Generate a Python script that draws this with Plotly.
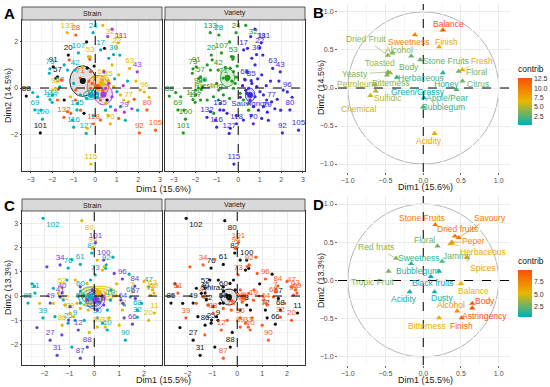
import numpy as np
import plotly.graph_objects as go

# ================= DATA =================
# ---- Panel A : individuals (Strain / Variety), Dim1 15.6 %, Dim2 14.5 %
A_label = ["133","28","24","32","111","18","22","20","107","53","17","91","30","63","43","96",
           "73","42","57","59","71","88","98","122","117","69","100","101","132","135","116",
           "127","118","70","115","77","29","80","105","92","65","85"]
A_lx = [-1.3,-0.9,-0.1,0.35,0.78,1.07,1.0,-1.25,-0.78,-0.23,0.25,-1.95,0.85,1.6,1.95,2.28,
        -2.1,-0.93,-1.75,-1.65,-0.7,-3.2,-1.85,-2.1,-2.0,-2.8,-2.45,-2.55,-1.45,-0.85,-1.0,
        -0.42,-0.08,0.7,-0.2,1.55,1.35,2.4,2.8,2.05,0.3,0.6]
A_ly = [2.4,2.3,2.4,2.72,2.55,1.96,1.75,1.43,1.52,1.35,1.65,0.92,1.45,0.85,0.7,-0.17,
        0.83,0.78,0.48,0.05,0.43,-0.35,0.0,-0.5,-0.62,-0.95,-1.35,-1.95,-1.27,-0.95,-1.7,
        -1.97,-1.55,-1.55,-3.3,-0.6,-1.05,-0.95,-1.83,-1.95,0.38,0.32]
A_lstrain = ["G","O","C","G","P","G","G","K","C","G","C","K","C","G","P","G",
             "C","C","K","C","O","K","G","C","C","C","C","K","O","C","C",
             "C","O","G","G","G","P","O","O","O","G","G"]
A_lvariety = ["R","R","R","R","S","S","S","R","R","R","S","R","S","S","S","S",
              "R","R","R","R","R","R","R","R","R","R","R","R","S","S","S",
              "S","S","S","S","S","S","S","S","S","S","S"]
# unlabeled individuals
A_ux = [-0.4,-0.32,-0.25,-1.29,-1.57,-1.72,-1.98,-2.67,-2.9,-2.52,-1.75,-1.44,-1.15,-0.92,-0.69,
        -0.52,-0.22,-0.37,-0.09,-0.14,0.09,0.24,0.48,0.48,-2.13,-1.83,-1.21,-1.44,-0.91,-0.83,
        -1.14,-1.98,-0.4,-0.22,-0.6,-0.05,-1.0,-0.3,
        0.58,0.43,0.63,0.78,1.14,1.09,0.4,0.32,0.63,0.86,1.01,1.17,0.78,0.55,0.4,0.48,0.71,
        0.94,1.17,1.32,0.24,-0.09,-0.37,-0.68,-1.29,-1.06,-0.52,1.09,1.89,2.09,1.81,1.97,1.5,
        1.3,0.2,0.35,0.1,0.9,1.4,0.6,2.5,1.7]
A_uy = [2.0,1.36,1.25,0.78,0.35,-0.06,-0.3,-0.38,-0.2,-0.96,-0.52,-0.52,-0.38,-0.52,-0.3,
        0.35,0.71,0.86,0.47,0.2,-0.23,-0.52,-0.96,-0.67,0.64,0.42,1.22,1.0,-0.09,-0.67,
        -1.1,-0.09,-0.45,-0.01,0.9,0.95,0.2,0.3,
        2.23,1.72,1.29,1.0,1.43,0.57,0.71,0.35,0.2,0.06,-0.16,-0.3,-0.38,-0.52,-0.23,-0.01,-0.81,
        -0.96,-0.81,-0.52,-1.39,-1.2,-1.75,-0.96,-1.03,-1.39,-1.1,-1.32,0.3,-0.09,-0.49,-0.96,0.3,
        0.1,0.1,-0.1,-0.4,0.4,-1.4,-1.2,-0.4,-0.9]
A_ustrain = ["K","G","O","C","O","O","C","C","C","C","O","K","G","O","C",
             "K","O","K","G","O","C","O","C","G","C","K","O","C","O","C",
             "O","G","C","O","G","K","C","O",
             "P","K","C","G","C","G","P","O","P","G","C","G","P","K","O","P","C",
             "P","C","G","O","C","G","O","O","C","K","O","G","G","O","C","C",
             "P","P","O","C","C","C","G","G","P"]
A_uvariety = ["R"] * 38 + ["S"] * 42

# group ellipses (centre x, centre y, radius x, radius y)
A_strain_groups = ["K","O","P","C","G"]
A_strain_ell = [(-0.58,0.3,0.6,0.66),(0.12,0.05,0.5,0.5),(0.38,-0.28,0.42,0.45),
                (-0.2,-0.3,0.35,0.2),(0.3,0.2,0.4,0.35)]
A_variety_groups = ["R","S"]
A_variety_names = ["Riesling","Sauvignon"]
A_variety_ell = [(-0.5,0.45,0.33,0.4),(0.55,-0.3,0.22,0.3)]

# ---- Panel C : individuals, Dim1 15.5 %, Dim2 13.3 %
C_label = ["102","80","101","94","100","82","34","73","92","61","76","96","84","47","63","7","99",
           "65","67","69","19","64","68","32","11","20","66","90","72","10","33","89","30","8",
           "26","12","9","25","86","38","42","49","39","27","31","87","88","51","85","52","41",
           "40","50","60"]
C_lx = [-2.05,-0.5,0.05,-0.05,0.38,-0.1,-1.37,0.04,0.48,-0.56,-1.05,1.13,1.63,2.18,2.34,1.53,2.26,
        1.45,1.65,2.4,0.65,1.15,1.73,1.73,2.42,2.18,1.53,1.25,1.13,0.52,0.44,0.12,0.12,0.38,
        -0.24,-0.64,-0.77,-1.05,-1.29,-0.97,-1.17,-1.77,-2.06,-1.77,-1.49,-0.56,-0.28,-2.38,-2.66,
        -1.29,-1.37,-1.29,-0.56,-0.55]
C_ly = [3.2,3.1,2.2,2.0,1.48,1.77,1.28,0.87,1.28,1.3,1.15,0.7,0.41,0.37,0.25,0.17,0.04,
        -0.04,-0.1,0.12,-0.17,-0.3,-0.58,-0.87,-0.7,-1.0,-1.16,-1.82,-0.58,-1.4,-1.28,-1.28,-0.9,-0.37,
        -0.58,-1.4,-1.0,-1.12,-1.2,-0.7,-0.37,-0.29,-0.9,-1.82,-2.44,-2.56,-2.1,0.12,-0.29,
        0.33,-0.04,0.12,-0.29,0.2]
C_lstrain = ["C","G","P","G","P","C","P","C","C","C","C","P","P","C","G","G","G",
             "C","P","G","C","P","C","C","G","G","P","C","G","C","G","G","C","P",
             "G","P","C","C","G","G","G","P","C","P","P","P","P","C","C","G","P",
             "P","C","C"]
C_lvariety = ["K","K","O","O","K","K","O","O","O","K","K","O","O","O","O","O","O",
              "O","K","O","O","O","K","O","K","O","K","O","K","O","O","O","O","K",
              "O","O","K","K","K","O","K","K","O","K","K","O","K","O","K","K","O",
              "K","K","K"]
C_ux = [0.33,0.46,0.12,-1.1,-0.76,-0.56,-0.29,-0.15,-0.08,-0.42,-0.29,-0.69,-0.97,-1.24,-1.44,
        -1.64,-2.19,-1.58,-1.03,-0.83,0.53,0.12,-2.3,1.4,0.9,-0.2,1.2,-0.9,-2.5,
        -0.08,0.4,-1.64,-1.17,-0.56,0.33,0.12,0.33,0.46,0.67,0.87,1.07,1.21,0.8,0.2,0.0,-0.2,
        0.6,1.9,2.0,-2.4,-1.9,-0.9,0.75,1.0,-0.4,-1.3]
C_uy = [1.07,1.14,1.48,0.66,0.66,0.38,0.52,0.66,0.25,0.04,-0.16,-0.3,-0.44,-0.16,0.11,
        0.32,-0.3,-0.85,-0.99,-0.85,-0.58,-0.58,-1.3,0.9,0.5,-1.5,-0.9,-2.1,0.5,
        1.96,1.21,-0.3,-0.37,-0.51,-1.12,0.25,0.0,0.11,0.25,0.0,-0.16,-0.37,0.93,-0.25,0.1,-0.2,
        -0.9,-0.3,0.6,0.4,1.2,1.5,1.6,-1.2,-1.0,-1.6]
C_ustrain = ["G","C","G","C","G","P","G","C","P","C","P","G","P","C","G",
             "C","G","C","P","G","C","P","P","C","G","G","P","C","C",
             "G","G","G","C","G","C","G","P","G","C","G","P","C","P","P","P","C",
             "G","C","G","C","P","C","C","G","C","P"]
C_uvariety = ["K"] * 29 + ["O"] * 27

C_strain_groups = ["C","G","P"]
C_strain_ell = [(-0.16,-0.03,0.47,0.41),(0.17,0.11,0.74,0.3),(0.04,-0.16,0.38,0.38)]
C_variety_groups = ["K","O"]
C_variety_names = ["Shiraz",""]
C_variety_ell = [(-0.33,-0.04,0.33,0.33),(0.24,-0.04,0.18,0.17)]

# ---- Panel B : variables (correlation circle)
B_var = ["Balance","Sweetness","Finish","Dried Fruit","Alcohol","Toasted","Body","Stone Fruits",
         "Fresh","Floral","Yeasty","Herbaceous","Honey","Citrus","Petroleum","Bitterness",
         "Green/Grassy","Apple/Pear","Sulfidic","Chemical","Bubblegum","Acidity"]
B_x = [0.26,-0.11,0.21,-0.47,-0.41,-0.44,-0.16,-0.04,0.52,0.47,-0.47,-0.35,0.26,0.52,-0.64,-0.48,
       0.01,0.44,-0.63,-0.7,0.0,0.15]
B_y = [0.76,0.7,0.54,0.43,0.46,0.2,0.42,0.37,0.24,0.22,0.21,0.14,0.2,0.09,0.04,0.17,
       -0.13,-0.02,-0.04,-0.1,-0.25,-0.6]
B_contrib = [12.7,9.5,7.2,4.0,3.8,4.2,3.0,2.8,7.0,3.5,3.6,1.5,1.3,3.2,4.8,3.6,
             0.1,2.0,5.0,5.5,1.8,7.5]

# ---- Panel D : variables (correlation circle)
D_var = ["Stone Fruits","Savoury","Dried fruits","Peper","Herbaceous","Floral","Jammy","Spices",
         "Red fruits","Sweetness","Bubblegum","Tropic Fruit","Black fruits","Balance","Acidity",
         "Dusty","Body","Alcohol","Astringency","Finish","Bitterness"]
D_x = [0.16,0.47,0.42,0.38,0.36,0.19,0.25,0.58,-0.36,-0.16,0.21,-0.46,0.1,0.5,-0.18,
       0.15,0.65,0.45,0.65,0.51,0.21]
D_y = [0.73,0.56,0.58,0.5,0.48,0.45,0.25,0.3,0.29,0.22,0.12,0.12,0.05,-0.04,-0.15,
       -0.15,-0.3,-0.4,-0.36,-0.49,-0.49]
D_contrib = [8.0,8.3,8.1,7.0,5.8,2.8,2.4,6.2,3.2,1.5,1.0,3.0,0.5,5.0,1.0,
             1.0,9.5,7.0,9.9,9.0,5.8]

# ================= STYLE =================
W, H = 550, 387
FONT = "Liberation Sans, Arial, sans-serif"
A_strain_col = {"K": "#111111", "C": "#00AFBB", "O": "#FC5A1E", "G": "#E7B800", "P": "#A238E6"}
A_variety_col = {"R": "#1F9A1F", "S": "#3A2BE0"}
C_strain_col = {"C": "#00AFBB", "G": "#E7B800", "P": "#6A40DA"}
C_variety_col = {"K": "#111111", "O": "#FC5A1E"}
SCALE = [(0.0, (0x00, 0xAF, 0xBB)), (0.5, (0xE7, 0xB8, 0x00)), (1.0, (0xFC, 0x4E, 0x07))]
A_name_pos = ["bottom left", "bottom center"]
C_name_pos = ["top left", "top center"]

# label offsets (pixels, right / down) of the repelled variable labels
B_off = [(6,-6),(-6,7),(7,-5),(-22,-16),(7,-3),(-10,-10),(-2,11),(26,1),(20,-9),(18,1),(-33,2),
         (24,1),(4,11),(16,3),(-18,-1),(4,8),(-6,-6),(-9,8),(12,7),(-11,13),(20,0),(-6,7)]
D_off = [(-13,-7),(31,-20),(3,-7),(22,-1),(33,8),(-13,-6),(15,-5),(16,10),(-20,-11),(8,-6),
         (-22,0),(-16,11),(2,6),(13,7),(-6,7),(7,6),(13,-2),(-6,-6),(12,8),(0,8),(-12,8)]


def col_of(v, lo, hi):
    t = (v - lo) / (hi - lo) if hi > lo else 0
    for (t0, c0), (t1, c1) in zip(SCALE[:-1], SCALE[1:]):
        if t <= t1:
            f = (t - t0) / (t1 - t0)
            c = [round(a + (b - a) * f) for a, b in zip(c0, c1)]
            return "rgb(%d,%d,%d)" % tuple(c)
    return "rgb(252,78,7)"


def rgba(hexc, a):
    h = hexc.lstrip("#")
    return "rgba(%d,%d,%d,%.2f)" % (int(h[0:2], 16), int(h[2:4], 16), int(h[4:6], 16), a)


def ellipse(cx, cy, rx, ry, n=80):
    t = np.linspace(0, 2 * np.pi, n)
    return cx + rx * np.cos(t), cy + ry * np.sin(t)


def dx(l, r):
    return [l / W, r / W]


def dy(t, b):
    return [1 - b / H, 1 - t / H]


fig = go.Figure()
ann = []


def add_individuals(xa, ya, xs, ys, labels, groups, colmap, ells, ell_groups, ytop, names=None,
                    name_pos=None, fill_first_gray=False, rings=1):
    for k, (g, e) in enumerate(zip(ell_groups, ells)):
        c = colmap[g]
        for r in range(rings):
            s = 1 - r * 0.3
            ex, ey = ellipse(e[0], e[1], e[2] * s, e[3] * s)
            fc = rgba("#888888", 0.25) if (g in ("K",) and fill_first_gray) else rgba(c, 0.18)
            fig.add_trace(go.Scatter(x=ex, y=ey, mode="lines", xaxis=xa, yaxis=ya,
                                     line=dict(color=c, width=0.9),
                                     fill="toself" if r == 0 else None,
                                     fillcolor=fc, hoverinfo="skip", showlegend=False))
    for g in colmap:
        idx = [i for i, gg in enumerate(groups) if gg == g]
        if not idx:
            continue
        # labels of points close to the top edge go below them
        pos = ["bottom right" if ys[i] > ytop - 0.5 else "top center" for i in idx]
        fig.add_trace(go.Scatter(
            x=[xs[i] for i in idx], y=[ys[i] for i in idx],
            text=[labels[i] for i in idx], mode="markers+text", textposition=pos,
            textfont=dict(size=8, color=colmap[g], family=FONT),
            marker=dict(size=3.2, color=colmap[g]), xaxis=xa, yaxis=ya,
            showlegend=False, cliponaxis=False))
    for k, (g, e) in enumerate(zip(ell_groups, ells)):
        fig.add_trace(go.Scatter(x=[e[0]], y=[e[1]], mode="markers+text",
                                 text=[names[k] if names else ""],
                                 textposition=name_pos[k] if name_pos else "bottom center",
                                 textfont=dict(size=8, color=colmap[g], family=FONT),
                                 marker=dict(size=6, color=colmap[g]),
                                 xaxis=xa, yaxis=ya, showlegend=False))


A_x = A_lx + A_ux
A_y = A_ly + A_uy
A_lab = A_label + [""] * len(A_ux)
A_st = A_lstrain + A_ustrain
A_va = A_lvariety + A_uvariety
A_yr = [-3.6, 2.95]
add_individuals("x", "y", A_x, A_y, A_lab, A_st, A_strain_col, A_strain_ell, A_strain_groups,
                A_yr[1], fill_first_gray=True)
add_individuals("x2", "y2", A_x, A_y, A_lab, A_va, A_variety_col, A_variety_ell, A_variety_groups,
                A_yr[1], names=A_variety_names, name_pos=A_name_pos)

C_x = C_lx + C_ux
C_y = C_ly + C_uy
C_lab = C_label + [""] * len(C_ux)
C_st = C_lstrain + C_ustrain
C_va = C_lvariety + C_uvariety
C_yr = [-2.84, 3.5]
add_individuals("x4", "y4", C_x, C_y, C_lab, C_st, C_strain_col, C_strain_ell, C_strain_groups,
                C_yr[1], rings=3)
add_individuals("x5", "y5", C_x, C_y, C_lab, C_va, C_variety_col, C_variety_ell, C_variety_groups,
                C_yr[1], names=C_variety_names, name_pos=C_name_pos, fill_first_gray=True)


def add_vars(xa, ya, names, xs, ys, contrib, offs, cb_y):
    lo, hi = min(contrib), max(contrib)
    cols = [col_of(v, lo, hi) for v in contrib]
    fig.add_trace(go.Scatter(
        x=xs, y=ys, mode="markers",
        marker=dict(symbol="triangle-up", size=5.5, color=contrib,
                    colorscale=[[s, "rgb(%d,%d,%d)" % c] for s, c in SCALE],
                    cmin=lo, cmax=hi, showscale=True,
                    colorbar=dict(x=518 / W, xanchor="left", y=cb_y, yanchor="middle",
                                  len=62, lenmode="pixels", thickness=14, thicknessmode="pixels",
                                  outlinewidth=0, ticks="", ypad=0, xpad=0,
                                  tickvals=[2.5, 5, 7.5, 10, 12.5], tickformat=".1f",
                                  tickfont=dict(size=7, color="#333333", family=FONT),
                                  title=dict(text="contrib", side="top",
                                             font=dict(size=8.5, color="#111111", family=FONT)))),
        xaxis=xa, yaxis=ya, showlegend=False, cliponaxis=False))
    for n, x, y, c, (ox, oy) in zip(names, xs, ys, cols, offs):
        far = (ox * ox + oy * oy) > 20 * 20
        a = dict(x=x, y=y, xref=xa, yref=ya, text=n, font=dict(size=8.5, color=c, family=FONT),
                 xanchor="center", yanchor="middle")
        if far:
            a.update(showarrow=True, ax=ox, ay=oy, arrowhead=0, arrowwidth=0.6, arrowcolor=c,
                     standoff=2)
        else:
            a.update(showarrow=False, xshift=ox, yshift=-oy)
        ann.append(a)


add_vars("x3", "y3", B_var, B_x, B_y, B_contrib, B_off, 1 - 94 / H)
add_vars("x6", "y6", D_var, D_x, D_y, D_contrib, D_off, 1 - 286 / H)

# ================= LAYOUT =================
tickfont = dict(size=7, color="#4D4D4D", family=FONT)


def facet_axis(domain, rng, dtick, minor, anchor, show=True):
    return dict(domain=domain, range=rng, dtick=dtick, anchor=anchor, showgrid=True,
                gridcolor="#EBEBEB", gridwidth=0.8, zeroline=False, showline=True, mirror=True,
                linecolor="#333333", linewidth=0.8, ticks="outside" if show else "",
                ticklen=1.5, tickcolor="#333333", tickwidth=0.6,
                showticklabels=show, tickfont=tickfont,
                minor=dict(dtick=minor, showgrid=True, gridcolor="#F5F5F5", gridwidth=0.5))


def circle_axis(domain, rng, anchor):
    return dict(domain=domain, range=rng, dtick=0.5, tickformat=".1f", anchor=anchor,
                showgrid=True, gridcolor="#EBEBEB", gridwidth=0.8, zeroline=False,
                showline=False, ticks="outside", ticklen=2, tickcolor="#666666", tickwidth=0.6,
                tickfont=tickfont,
                minor=dict(dtick=0.25, showgrid=True, gridcolor="#F5F5F5", gridwidth=0.5))


layout = dict(
    width=W, height=H, margin=dict(l=0, r=0, t=0, b=0, autoexpand=False),
    paper_bgcolor="white", plot_bgcolor="white", font=dict(family=FONT),
    xaxis=facet_axis(dx(22, 162), [-3.4, 3.1], 1, 0.5, "y"),
    yaxis=facet_axis(dy(20, 171), A_yr, 2, 1, "x"),
    xaxis2=facet_axis(dx(165, 305), [-3.4, 3.1], 1, 0.5, "y2"),
    yaxis2=facet_axis(dy(20, 171), A_yr, 2, 1, "x2", show=False),
    xaxis3=circle_axis(dx(338, 510), [-1.13, 1.15], "y3"),
    yaxis3=circle_axis(dy(4, 172), [-1.105, 1.105], "x3"),
    xaxis4=facet_axis(dx(22, 162), [-2.9, 2.72], 1, 0.5, "y4"),
    yaxis4=facet_axis(dy(211, 365), C_yr, 1, 0.5, "x4"),
    xaxis5=facet_axis(dx(165, 305), [-2.9, 2.72], 1, 0.5, "y5"),
    yaxis5=facet_axis(dy(211, 365), C_yr, 1, 0.5, "x5", show=False),
    xaxis6=circle_axis(dx(338, 510), [-1.13, 1.15], "y6"),
    yaxis6=circle_axis(dy(196, 365), [-1.105, 1.105], "x6"),
)
fig.update_layout(**layout)

shapes = []
for i in ["", "2", "3", "4", "5", "6"]:
    shapes.append(dict(type="line", xref="x" + i, yref="y%s domain" % i, x0=0, x1=0, y0=0, y1=1,
                       line=dict(color="#000000", width=1, dash="dash"), layer="above"))
    shapes.append(dict(type="line", xref="x%s domain" % i, yref="y" + i, x0=0, x1=1, y0=0, y1=0,
                       line=dict(color="#000000", width=1, dash="dash"), layer="above"))
for i in ["3", "6"]:
    shapes.append(dict(type="circle", xref="x" + i, yref="y" + i, x0=-1, y0=-1, x1=1, y1=1,
                       line=dict(color="#B5B5B5", width=1), layer="below"))
for (l, r, t, b) in [(22, 162, 7, 20), (165, 305, 7, 20), (22, 162, 199, 211), (165, 305, 199, 211)]:
    shapes.append(dict(type="rect", xref="paper", yref="paper", x0=l / W, x1=r / W,
                       y0=1 - b / H, y1=1 - t / H, fillcolor="#D9D9D9",
                       line=dict(color="#333333", width=0.8)))
fig.update_layout(shapes=shapes)


def txt(x, y, s, size=9, angle=0, bold=False, color="#1A1A1A", xanchor="center"):
    ann.append(dict(x=x / W, y=1 - y / H, xref="paper", yref="paper",
                    text="<b>%s</b>" % s if bold else s,
                    showarrow=False, textangle=angle, xanchor=xanchor, yanchor="middle",
                    font=dict(size=size, color=color, family=FONT)))


for (x, y, s) in [(92, 13.5, "Strain"), (235, 13.5, "Variety"), (92, 205, "Strain"), (235, 205, "Variety")]:
    txt(x, y, s, size=7)
txt(163, 189, "Dim1 (15.6%)")
txt(163, 380, "Dim1 (15.5%)")
txt(425, 187, "Dim1 (15.6%)")
txt(425, 380, "Dim1 (15.5%)")
txt(8, 96, "Dim2 (14.5%)", angle=-90)
txt(8, 288, "Dim2 (13.3%)", angle=-90)
txt(321, 88, "Dim2 (14.5%)", angle=-90)
txt(321, 281, "Dim2 (13.3%)", angle=-90)
for (x, y, s) in [(9, 13, "A"), (318, 12, "B"), (9, 205, "C"), (318, 204, "D")]:
    txt(x, y, s, size=15, bold=True, color="#000000")
fig.update_layout(annotations=ann)

fig.write_html("out.html", config={"displayModeBar": False},
               post_script="document.body.style.margin='0px';document.body.style.padding='0px';")
